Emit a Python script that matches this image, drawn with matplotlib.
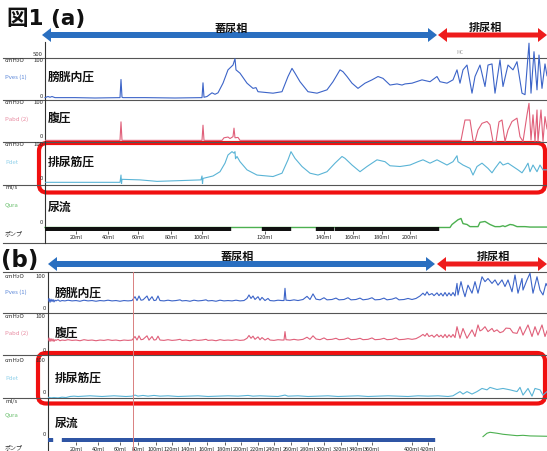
import numpy as np
import matplotlib.pyplot as plt
from matplotlib.patches import FancyBboxPatch, Polygon

plt.rcParams['font.family'] = ['Noto Sans CJK JP', 'DejaVu Sans']

W, H = 547, 451

# ---------------- (a) : time in s, pressures in cmH2O, flow in ml/s ----------------
a_pves = [(0, 1), (3, 4), (5, 2), (7, 4), (10, 1), (30, 1), (50, 0), (75, 1), (76, 50), (77, 2), (78, 1),
          (100, 1), (130, 0), (157, 1), (158, 41), (159, 2), (162, 4), (167, 14), (170, 10), (173, 14),
          (178, 40), (183, 76), (188, 89), (190, 106), (191, 76), (195, 67), (202, 40), (208, 26), (211, 28),
          (213, 17), (228, 13), (237, 17), (243, 58), (247, 80), (250, 67), (255, 44), (263, 17), (272, 13),
          (282, 22), (288, 44), (295, 76), (298, 71), (302, 58), (307, 40), (313, 26), (320, 40), (327, 49),
          (333, 58), (338, 53), (345, 35), (352, 38), (357, 35), (360, 38), (367, 40), (377, 49), (385, 44),
          (392, 58), (395, 44), (402, 40), (408, 49), (412, 76), (415, 40), (418, 76), (422, 89), (427, 13),
          (430, 58), (435, 89), (440, 31), (443, 89), (447, 92), (450, 13), (455, 103), (458, 31), (463, 89),
          (468, 76), (472, 98), (477, 13), (480, 9), (484, 148), (486, 13), (489, 125), (492, 22), (494, 116),
          (497, 26), (500, 92), (502, 60)]
a_pabd = [(0, -1), (75, -1), (76, 49), (77, -1), (157, -1), (158, 40), (159, -1), (177, -1), (179, 6), (183, 8),
          (185, 4), (188, 9), (189, 32), (190, 6), (193, 7), (195, -1), (416, -1), (418, 27), (420, 54),
          (425, 54), (428, 0), (430, -4), (433, 27), (437, 45), (442, 50), (445, 41), (448, -4), (451, -4),
          (454, 49), (457, 54), (460, -4), (463, 27), (467, 50), (472, 59), (475, 9), (478, -4), (482, 68),
          (484, 99), (486, 0), (488, 68), (490, -4), (492, 81), (493, -4), (496, 81), (498, -4), (500, 63),
          (502, 30)]
a_pdet = [(0, -3.6), (75, -3.6), (76, 16), (76.5, -8), (77, 4.5), (95, 3), (112, -1), (135, 1), (156, 3),
          (157, 13.5), (157.5, -8), (158, 7), (168, 13.5), (175, 25), (180, 48), (183, 70), (187, 79),
          (189, 75), (190, 79), (190.5, 60), (192, 66), (195, 52), (202, 30), (212, 16), (228, 12), (237, 21),
          (243, 57), (246, 79), (250, 61), (257, 39), (265, 21), (273, 16), (282, 25), (290, 48), (297, 66),
          (300, 61), (307, 43), (315, 25), (322, 39), (332, 57), (340, 52), (345, 41), (355, 39), (365, 43),
          (373, 52), (378, 57), (385, 48), (392, 57), (402, 43), (408, 52), (412, 68), (413, 52), (418, 43),
          (425, 34), (428, 16), (432, 39), (437, 48), (443, 34), (447, 22), (450, 34), (455, 52), (458, 43),
          (463, 48), (468, 39), (473, 30), (477, 22), (480, 34), (483, 48), (485, 25), (488, 43), (492, 25),
          (495, 43), (498, 30), (502, 30)]
a_qura = [(0, 0), (405, 0), (407, 3.5), (413, 9), (416, 10.5), (418, 4.5), (422, 3.5), (425, 1), (433, 1),
          (435, 6), (440, 7), (445, 3.5), (450, 1), (455, 1), (458, 2), (460, 1), (465, 3.5), (468, 3),
          (472, 1), (480, 1), (485, 0.5), (502, 0.5)]
a_pump_on = [(0, 185), (217, 245), (271, 288), (290, 393)]   # (start, stop) of infusion
a_pump_t = [31, 63, 93, 126, 157, 220, 279, 308, 337, 365]
a_pump_ml = [20, 40, 60, 80, 100, 120, 140, 160, 180, 200]

# ---------------- (b) ----------------
b_pves = [(0, 25), (1, 33), (2, 22), (3, 31), (4, 24), (5, 30), (6, 23), (7, 28), (8, 26), (10, 29), (12, 25),
          (14, 27), (17, 26), (20, 28), (24, 26), (28, 27), (32, 25), (36, 28), (40, 26), (44, 27), (48, 25),
          (52, 27), (56, 26), (60, 28), (64, 26), (68, 27), (72, 25), (76, 27), (80, 26), (84, 27), (87, 38),
          (89, 27), (91, 40), (93, 28), (95, 29), (99, 40), (101, 27), (104, 38), (106, 27), (108, 28),
          (110, 40), (112, 27), (116, 26), (120, 28), (124, 26), (128, 27), (132, 29), (134, 26), (138, 27),
          (142, 25), (146, 28), (150, 26), (154, 27), (158, 29), (160, 26), (164, 27), (168, 25), (172, 28),
          (176, 26), (180, 27), (184, 26), (188, 28), (192, 26), (196, 27), (199, 33), (201, 43), (203, 33),
          (205, 40), (207, 30), (210, 38), (212, 28), (214, 36), (217, 27), (220, 33), (222, 27), (226, 26),
          (230, 28), (234, 27), (236, 27), (237, 62), (238, 28), (242, 27), (246, 29), (250, 27), (255, 30),
          (259, 39), (262, 30), (265, 46), (268, 31), (272, 29), (276, 35), (279, 29), (284, 30), (288, 34),
          (291, 29), (296, 30), (300, 35), (303, 29), (308, 30), (312, 34), (315, 29), (320, 31), (324, 35),
          (327, 29), (332, 30), (336, 34), (339, 29), (344, 31), (348, 35), (351, 29), (356, 30), (360, 33),
          (364, 30), (368, 33), (372, 40), (375, 48), (377, 42), (379, 52), (381, 43), (384, 47), (386, 41),
          (389, 49), (391, 41), (393, 48), (395, 40), (397, 50), (399, 40), (401, 49), (403, 41), (405, 50),
          (407, 40), (409, 76), (410, 43), (413, 81), (415, 57), (417, 38), (420, 71), (424, 48), (427, 81),
          (430, 48), (434, 95), (437, 81), (440, 90), (444, 76), (447, 86), (450, 71), (454, 86), (457, 67),
          (460, 86), (464, 52), (467, 100), (470, 48), (474, 90), (475, 57), (479, 86), (482, 105), (485, 48),
          (489, 95), (492, 57), (495, 43), (498, 76), (499, 70)]
b_pabd = [(0, 32), (1, 40), (2, 30), (3, 38), (4, 31), (5, 37), (6, 30), (7, 35), (8, 33), (10, 36), (12, 32),
          (14, 34), (17, 33), (20, 35), (24, 33), (28, 34), (32, 32), (36, 35), (40, 33), (44, 34), (48, 32),
          (52, 34), (56, 33), (60, 35), (64, 33), (68, 34), (72, 32), (76, 34), (80, 33), (84, 34), (87, 44),
          (89, 34), (91, 46), (93, 35), (95, 36), (99, 46), (101, 34), (104, 44), (106, 34), (108, 35),
          (110, 45), (112, 34), (116, 33), (120, 35), (124, 33), (128, 34), (132, 36), (134, 33), (138, 34),
          (142, 32), (146, 35), (150, 33), (154, 34), (158, 36), (160, 33), (164, 34), (168, 32), (172, 35),
          (176, 33), (180, 34), (184, 33), (188, 35), (192, 33), (196, 34), (199, 39), (201, 47), (203, 39),
          (205, 45), (207, 36), (210, 43), (212, 35), (214, 41), (217, 34), (220, 39), (222, 34), (226, 33),
          (230, 35), (234, 34), (236, 34), (237, 58), (238, 35), (242, 34), (246, 36), (250, 34), (255, 36),
          (259, 42), (262, 36), (265, 46), (268, 37), (272, 35), (276, 40), (279, 35), (284, 36), (288, 39),
          (291, 35), (296, 36), (300, 40), (303, 35), (308, 36), (312, 39), (315, 35), (320, 36), (324, 40),
          (327, 35), (332, 36), (336, 39), (339, 35), (344, 36), (348, 40), (351, 35), (356, 36), (360, 38),
          (364, 36), (368, 38), (372, 44), (375, 50), (377, 45), (379, 53), (381, 44), (384, 48), (386, 42),
          (389, 50), (391, 43), (393, 48), (395, 41), (397, 50), (399, 41), (401, 49), (403, 42), (405, 50),
          (407, 41), (409, 72), (412, 39), (415, 67), (419, 39), (424, 63), (427, 44), (430, 77), (432, 60),
          (434, 63), (437, 72), (440, 58), (444, 67), (446, 58), (449, 63), (452, 55), (455, 58), (458, 68),
          (462, 67), (465, 55), (469, 53), (472, 72), (475, 48), (480, 77), (484, 44), (487, 72), (490, 48),
          (494, 77), (497, 44), (499, 60)]
b_pdet = [(0, -12), (3, -14), (6, -13), (10, -14), (14, -12), (18, -13), (22, -10), (26, -9), (30, -10),
          (36, -9), (42, -8), (48, -9), (54, -10), (60, -9), (66, -8), (72, -9), (78, -10), (84, -9), (87, -6),
          (90, -9), (95, -7), (100, -9), (106, -7), (112, -9), (120, -8), (130, -10), (140, -9), (150, -8),
          (160, -10), (170, -9), (180, -8), (190, -9), (200, -7), (205, -9), (212, -8), (220, -9), (230, -10),
          (237, -6), (240, -9), (250, -8), (260, -10), (270, -9), (280, -8), (290, -10), (300, -9), (310, -8),
          (320, -10), (330, -9), (340, -8), (350, -9), (360, -10), (370, -8), (380, -9), (390, -8), (400, -10),
          (405, -8), (409, -1), (412, 4), (415, -3), (419, 4), (424, -3), (429, 4), (434, 13), (439, 9),
          (442, 16), (449, 10), (455, 13), (462, 9), (469, 4), (472, 16), (475, -6), (480, 13), (484, -9),
          (487, 13), (492, 9), (495, -6), (499, 4)]
b_qura = [(435, 0.4), (439, 4.3), (442, 5.4), (449, 4.3), (455, 3.1), (462, 2.3), (469, 1.5), (475, 1.9),
          (482, 1.2), (499, 0.8)]
b_pump_on = [(0, 4), (14, 386)]
b_pump_t = [28, 50, 72, 90, 108, 124, 141, 159, 177, 193, 210, 226, 243, 260, 276, 293, 309, 324, 364, 380]
b_pump_ml = [20, 40, 60, 80, 100, 120, 140, 160, 180, 200, 220, 240, 260, 280, 300, 320, 340, 360, 400, 420]
b_event_t = 85

C_PVES, C_PABD, C_PDET, C_QURA = '#3c64c8', '#e0607a', '#5ab4d6', '#4cb050'
C_BLUE, C_RED = '#2a6fc0', '#ee1c1c'


def px_box(x0, y0, x1, y1):
    return [x0 / W, 1 - y1 / H, (x1 - x0) / W, (y1 - y0) / H]


fig = plt.figure(figsize=(W / 100, H / 100), dpi=100)
bg = fig.add_axes([0, 0, 1, 1])
bg.set_xlim(0, W)
bg.set_ylim(H, 0)
bg.axis('off')


def channel(x0, y0, y1, tmax, ylim):
    ax = fig.add_axes(px_box(x0, y0, W, y1))
    ax.set_xlim(0, tmax)
    ax.set_ylim(*ylim)
    ax.axis('off')
    ax.patch.set_alpha(0)
    return ax


def trace(ax, pts, color, lw=0.8, clip=True):
    t, v = np.array(pts).T
    ax.plot(t, v, color=color, lw=lw, clip_on=clip)


def pump(x0, y0, y1, tmax, on, ticks, mls, color):
    ax = fig.add_axes(px_box(x0, y0, W, y1))
    ax.set_xlim(0, tmax)
    ax.set_ylim(0, 1)
    ax.broken_barh([(s, e - s) for s, e in on], (0, 1), color=color)
    for s in ax.spines.values():
        s.set_visible(False)
    ax.patch.set_alpha(0)
    ax.set_yticks([])
    ax.set_xticks(ticks, [f'{m}ml' for m in mls])
    ax.tick_params(axis='x', length=2, width=0.5, pad=1.5, labelsize=4, colors='#222')
    return ax


def double_arrow(x0, x1, y, color, half=3, head=7, hl=9):
    pts = [(x0, y), (x0 + hl, y - head), (x0 + hl, y - half), (x1 - hl, y - half), (x1 - hl, y - head),
           (x1, y), (x1 - hl, y + head), (x1 - hl, y + half), (x0 + hl, y + half), (x0 + hl, y + head)]
    bg.add_patch(Polygon(pts, closed=True, facecolor=color, edgecolor='none'))


def hline(y, x0=3, x1=W):
    bg.plot([x0, x1], [y, y], color='#555', lw=0.8)


# channel separators and time axes
for y in [58, 99.5, 142, 184.5, 243, 272, 313, 355, 397.5]:
    hline(y)
bg.plot([45, 45], [42, 243], color='#333', lw=0.8)
bg.plot([48, 48], [272, H], color='#333', lw=0.8)

# ---- panel (a) channels ----
ax = channel(45, 58, 99, 502, (-2.7, 108))
trace(ax, a_pves, C_PVES, clip=False)
ax = channel(45, 100, 142, 502, (-5.4, 108))
trace(ax, a_pabd, C_PABD)
ax = channel(45, 142, 184, 502, (-8.1, 105))
trace(ax, a_pdet, C_PDET)
ax = channel(45, 184, 228, 502, (-0.6, 50.6))
trace(ax, a_qura, C_QURA, lw=1.0, clip=False)
pump(45, 226.5, 230.5, 502, a_pump_on, a_pump_t, a_pump_ml, '#111')

# ---- panel (b) channels ----
ax = channel(48, 272, 313, 499, (-8.6, 108.6))
trace(ax, b_pves, C_PVES)
ax = channel(48, 313, 355, 499, (-8.6, 111))
trace(ax, b_pabd, C_PABD)
ax = channel(48, 355, 398, 499, (-14.3, 108.6))
trace(ax, b_pdet, C_PDET)
ax = channel(48, 398, 438, 499, (-1.2, 45))
trace(ax, b_qura, C_QURA)
pump(48, 437.5, 442, 499, b_pump_on, b_pump_t, b_pump_ml, '#2f55a4')
ev = channel(48, 272, H, 499, (0, 1))
ev.axvline(b_event_t, color='#d98080', lw=0.7)

# ---- left column labels ----
small = dict(fontsize=4.3, va='center')
for y in [61, 103, 144, 277, 317, 360]:
    bg.text(5, y, 'cmH₂O', color='#333', **small)
for y in [187, 401]:
    bg.text(5, y, 'ml/s', color='#333', **small)
for y in [233, 447]:
    bg.text(5, y, 'ポンプ', color='#333', **small)
for x, y in [(43, 61), (43, 103), (43, 144), (45, 277), (45, 317), (45, 360)]:
    bg.text(x, y, '100', color='#333', ha='right', **small)
bg.text(43, 55, '500', color='#333', ha='right', **small)
for x, y in [(43, 96), (43, 137), (43, 179), (43, 223), (46, 308), (46, 350), (46, 392), (46, 434)]:
    bg.text(x, y, '0', color='#333', ha='right', **small)
for y0 in [77, 292]:
    bg.text(5, y0, 'Pves (1)', color='#5a86d8', **small)
for y0 in [119, 333]:
    bg.text(5, y0, 'Pabd (2)', color='#e88aa0', **small)
for y0 in [162, 378]:
    bg.text(5, y0, 'Pdet', color='#8fd0ea', **small)
for y0 in [205, 415]:
    bg.text(5, y0, 'Qura', color='#6cc070', **small)
bg.text(460, 52, 'MC', color='#aaa', fontsize=3.5, ha='center', va='center')

# ---- channel names ----
big = dict(fontsize=8.5, fontweight='bold', va='center', color='#111')
for x, y, s in [(48, 77, '膀胱内圧'), (48, 118, '腹圧'), (48, 162, '排尿筋圧'), (48, 207, '尿流'),
                (55, 293, '膀胱内圧'), (55, 333, '腹圧'), (55, 378, '排尿筋圧'), (55, 423, '尿流')]:
    bg.text(x, y, s, **big)

# ---- phase arrows ----
double_arrow(42, 437, 35, C_BLUE)
double_arrow(438, 547, 35, C_RED, half=2.5)
double_arrow(48, 435, 264, C_BLUE)
double_arrow(437, 547, 264, C_RED, half=2.5)
ph = dict(fontsize=8, fontweight='bold', ha='center', va='center', color='#111')
bg.text(231, 28, '蓄尿相', **ph)
bg.text(485, 27, '排尿相', **ph)
bg.text(237, 256, '蓄尿相', **ph)
bg.text(493, 256, '排尿相', **ph)

# ---- detrusor highlight boxes ----
for y0, y1, x0 in [(143, 192.5, 39), (353, 403.5, 38)]:
    bg.add_patch(FancyBboxPatch((x0, y0), 545 - x0, y1 - y0, boxstyle='round,pad=0,rounding_size=8',
                                facecolor='none', edgecolor='#f01010', lw=3))

# ---- panel titles ----
title = dict(fontweight='bold', va='center', color='#111', family=['DejaVu Sans', 'Noto Sans CJK JP'])
bg.text(7, 19, '図1 (a)', fontsize=15.5, **title)
bg.text(1, 260, '(b)', fontsize=16.5, **title)

fig.savefig('out.png', dpi=100)
